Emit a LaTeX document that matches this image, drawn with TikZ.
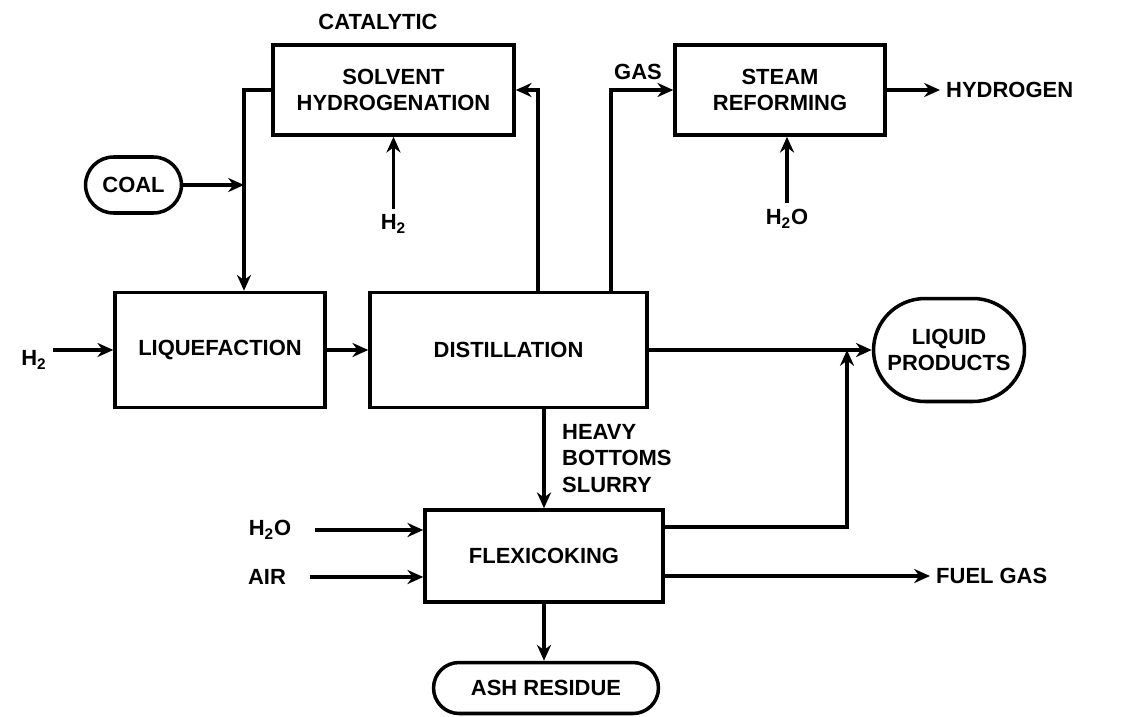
\documentclass[tikz,border=0pt]{standalone}
\usepackage{fontspec}
\setmainfont{Liberation Sans}
\usetikzlibrary{arrows.meta,shapes.misc}

\begin{document}
\begin{tikzpicture}[
  x=0.02cm, y=-0.02cm,
  >=Stealth,
  font=\fontsize{12.5}{15}\selectfont\bfseries,
  unitbox/.style={
    draw,
    line width=2pt,
    align=center,
    inner sep=2pt
  },
  terminal/.style={
    rounded rectangle,
    draw,
    line width=2pt,
    align=center,
    inner sep=2pt
  },
  stream/.style={align=center},
  edge/.style={-{Stealth[length=9pt,width=8pt]},line width=2pt},
  inlet/.style={edge,shorten <=10pt}
]
\useasboundingbox (0,0) rectangle (1141,716);

% top row
\node[stream] (catalytic) at (378,22) {CATALYTIC};
\node[unitbox,minimum width=4.82cm,minimum height=1.8cm] (solvent) at (393.5,90) {SOLVENT\\HYDROGENATION};
\node[unitbox,minimum width=4.2cm,minimum height=1.8cm] (steam) at (780,90) {STEAM\\REFORMING};
\node[stream,anchor=west] (hydrogen) at (940,90) {HYDROGEN};
\node[stream] (gas) at (638,72) {GAS};
\node[terminal,minimum width=2.06cm,minimum height=1.12cm] (coal) at (133.5,185) {COAL};
\node[stream] (h2solv) at (393.5,224) {H\textsubscript{2}};
\node[stream] (h2osteam) at (787,219) {H\textsubscript{2}O};

% middle row
\node[stream] (h2feed) at (34,360) {H\textsubscript{2}};
\node[unitbox,minimum width=4.2cm,minimum height=2.3cm] (liquefaction) at (220,350) {LIQUEFACTION};
\node[unitbox,minimum width=5.54cm,minimum height=2.3cm] (distillation) at (508.5,350) {DISTILLATION};
\node[terminal,minimum width=3.16cm,minimum height=2.06cm] (liquid) at (949,350) {LIQUID\\PRODUCTS};
\node[stream,anchor=north west,align=left] (heavy) at (556,418) {HEAVY\\BOTTOMS\\SLURRY};

% bottom row
\node[stream] (h2oflexi) at (270,530) {H\textsubscript{2}O};
\node[stream] (air) at (267,577) {AIR};
\node[unitbox,minimum width=4.76cm,minimum height=1.84cm] (flexi) at (544,556) {FLEXICOKING};
\node[stream,anchor=west] (fuel) at (930,576) {FUEL GAS};
\node[terminal,minimum width=4.64cm,minimum height=1.02cm] (ash) at (546,688) {ASH RESIDUE};

\coordinate (feed) at (244,188);
\coordinate (recycle) at (538,92);
\coordinate (gasup) at (611,95);
\coordinate (merge) at (847,350);
\coordinate (bottoms) at (847,527);

\draw[edge] (coal.east) -- (coal.east -| feed);
\draw[edge] (solvent.west) -| (liquefaction.north -| feed);
\draw[edge] (distillation.north -| recycle) |- (solvent.east);
\draw[edge] (distillation.north -| gasup) |- (steam.west);
\draw[edge] (h2solv.north) -- (solvent.south);
\draw[edge] (h2osteam.north) -- (h2osteam.north |- steam.south);
\draw[edge] (steam.east) -- (hydrogen.west);
\draw[edge] (h2feed.east |- liquefaction.west) -- (liquefaction.west);
\draw[edge] (liquefaction.east) -- (distillation.west);
\draw[edge] (distillation.east) -- (liquid.west);
\draw[edge] (distillation.south -| flexi.north) -- (flexi.north);
\draw[edge] (bottoms -| flexi.east) -| (merge);
\draw[inlet] (h2oflexi.east) -- (h2oflexi.east -| flexi.west);
\draw[inlet] (air.east) -- (air.east -| flexi.west);
\draw[edge] (fuel.west -| flexi.east) -- (fuel.west);
\draw[edge] (flexi.south) -- (flexi.south |- ash.north);
\end{tikzpicture}
\end{document}
